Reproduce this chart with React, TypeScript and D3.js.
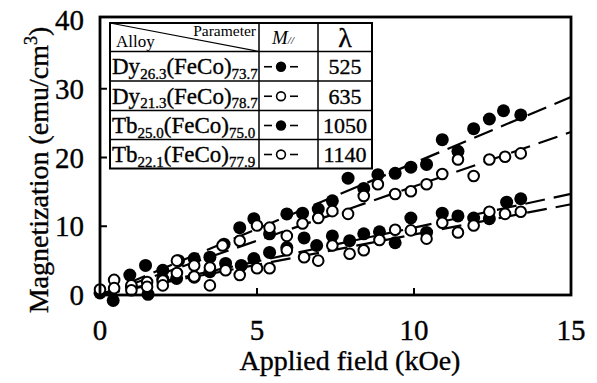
import React from "react";
import * as d3 from "d3";

const xTicks = [0, 5, 10, 15];
const yTicks = [0, 10, 20, 30, 40];
const xInnerTicks = [5, 10];
const yInnerTicks = [10, 20, 30];

// Dy26.3(FeCo)73.7 — filled
const fieldA = [0, 0.95, 1.45, 2.0, 2.5, 3.0, 3.5, 3.95, 4.45, 4.9, 5.4, 5.95, 6.45, 6.95, 7.4, 7.9, 8.4, 8.85, 9.4, 9.9, 10.4, 10.9, 11.4, 11.9, 12.4, 12.85, 13.4];
const magA = [0.3, 2.9, 4.3, 3.6, 5.0, 5.3, 5.5, 7.4, 9.8, 11.1, 8.9, 11.8, 11.9, 12.5, 13.7, 17.0, 15.5, 17.5, 17.7, 18.6, 19.0, 22.6, 20.9, 24.2, 25.6, 26.8, 26.2];
// Dy21.3(FeCo)78.7 — open
const fieldB = [0, 0.45, 1.0, 1.5, 2.0, 2.45, 3.0, 3.5, 3.9, 4.45, 5.0, 5.4, 5.95, 6.45, 6.95, 7.4, 7.9, 8.4, 8.85, 9.4, 9.9, 10.4, 10.9, 11.4, 11.9, 12.4, 12.9, 13.4];
const magB = [0.8, 2.2, 1.4, 1.9, 2.1, 5.0, 4.3, 4.0, 7.2, 7.9, 10.1, 9.8, 8.6, 10.4, 11.2, 12.2, 11.8, 14.4, 16.1, 14.7, 15.1, 16.1, 17.6, 19.7, 17.3, 19.7, 20.1, 20.6];
// Tb25.0(FeCo)75.0 — filled
const fieldC = [0.42, 1.0, 1.53, 2.0, 2.44, 3.0, 3.5, 4.0, 4.5, 4.9, 5.4, 5.95, 6.5, 6.9, 7.4, 7.95, 8.4, 8.9, 9.4, 9.9, 10.4, 10.9, 11.4, 11.9, 12.4, 12.95, 13.4];
const magC = [-0.8, 1.2, 0.1, 2.3, 2.4, 2.6, 3.4, 4.6, 4.3, 5.3, 6.2, 6.9, 8.3, 7.2, 8.6, 7.9, 8.9, 9.2, 7.6, 11.2, 9.1, 11.9, 11.5, 11.2, 11.1, 13.5, 14.0];
// Tb22.1(FeCo)77.9 — open
const fieldD = [0.45, 1.0, 1.5, 2.0, 2.45, 3.0, 3.5, 4.0, 4.45, 5.0, 5.4, 5.95, 6.5, 6.95, 7.4, 7.95, 8.4, 8.9, 9.4, 9.9, 10.4, 10.9, 11.4, 11.9, 12.4, 12.9, 13.4];
const magD = [1.0, 0.7, 1.2, 1.4, 3.2, 2.7, 1.4, 3.6, 2.9, 3.9, 3.9, 6.5, 5.5, 5.0, 7.2, 6.0, 6.5, 8.0, 9.5, 9.4, 8.2, 10.5, 9.1, 10.1, 12.1, 11.8, 12.1];

// fitted dashed lines: value at 0 kOe and at 15 kOe
const fitStart = [0, 0, 0, 0];
const fitEnd = [28.8, 23.7, 14.7, 13.2];
const fitField = [0, 15];

const alloyEl = ["Dy", "Dy", "Tb", "Tb"];
const alloySub1 = ["26.3", "21.3", "25.0", "22.1"];
const alloySub2 = ["73.7", "78.7", "75.0", "77.9"];
const lambdas = ["525", "635", "1050", "1140"];
const filledSeries = [true, false, true, false];

const FONT = "Liberation Serif, Tinos, Times New Roman, Times, DejaVu Serif, serif";

export default function App() {
  const x = d3.scaleLinear().domain([0, 15]).range([100, 571]);
  const y = d3.scaleLinear().domain([0, 40]).range([295, 20]);
  const series = [
    { f: fieldA, m: magA, filled: true },
    { f: fieldB, m: magB, filled: false },
    { f: fieldC, m: magC, filled: true },
    { f: fieldD, m: magD, filled: false },
  ];
  const line = d3
    .line<[number, number]>()
    .x((d) => x(d[0]))
    .y((d) => y(d[1]));

  const tx0 = 110, tx1 = 259, tx2 = 318, tx3 = 372;
  const rowYs = [23, 51.5, 81, 110.5, 139.5, 168.5];
  const ts = { fontFamily: FONT, stroke: "#000", strokeWidth: 0.35 } as React.CSSProperties;

  return (
    <svg width={597} height={383} style={{ position: "absolute", left: 0, top: 0, background: "#fff", fontFamily: FONT }}>
      <rect x={0} y={0} width={597} height={383} fill="#fff" />
      {fitEnd.map((e, i) => (
        <path
          key={"fit" + i}
          d={line([[fitField[0], fitStart[i]], [fitField[1], e]]) || ""}
          stroke="#000"
          strokeWidth={2.2}
          strokeDasharray="20 9"
          fill="none"
        />
      ))}
      {[0, 2, 1, 3].map((si) => {
        const s = series[si];
        return (
          <g key={"s" + si}>
            {s.f.map((fv, j) =>
              s.filled ? (
                <circle key={j} cx={x(fv)} cy={y(s.m[j])} r={6.5} fill="#000" />
              ) : (
                <circle key={j} cx={x(fv)} cy={y(s.m[j])} r={5.3} fill="#fff" stroke="#000" strokeWidth={2} />
              )
            )}
          </g>
        );
      })}
      <rect x={x(0)} y={17} width={x(15) - x(0)} height={y(0) - 17} fill="none" stroke="#000" strokeWidth={2.8} />
      {xInnerTicks.map((t) => (
        <line key={"xt" + t} x1={x(t)} x2={x(t)} y1={y(0)} y2={y(0) - 7} stroke="#000" strokeWidth={2} />
      ))}
      {yInnerTicks.map((t) => (
        <line key={"yt" + t} x1={x(0)} x2={x(0) + 7} y1={y(t)} y2={y(t)} stroke="#000" strokeWidth={2} />
      ))}
      {xTicks.map((t) => (
        <text key={"xl" + t} x={x(t)} y={340} fontSize={29} textAnchor="middle" fill="#000" style={ts}>
          {t}
        </text>
      ))}
      {yTicks.map((t) => (
        <text key={"yl" + t} x={84} y={y(t) + 10} fontSize={29} textAnchor="end" fill="#000" style={ts}>
          {t}
        </text>
      ))}
      <text x={350} y={370} fontSize={28} textAnchor="middle" fill="#000" style={ts}>
        Applied field (kOe)
      </text>
      <text transform="translate(48,170) rotate(-90)" fontSize={28} textAnchor="middle" fill="#000" style={ts}>
        Magnetization (emu/cm
        <tspan fontSize={18} dy={-11}>3</tspan>
        <tspan dy={11}>)</tspan>
      </text>
      <rect x={tx0} y={rowYs[0]} width={tx3 - tx0} height={rowYs[5] - rowYs[0]} fill="#fff" stroke="#000" strokeWidth={2} />
      {rowYs.slice(1, 5).map((ry, i) => (
        <line key={"rl" + i} x1={tx0} x2={tx3} y1={ry} y2={ry} stroke="#000" strokeWidth={1.5} />
      ))}
      <line x1={tx1} x2={tx1} y1={rowYs[0]} y2={rowYs[5]} stroke="#000" strokeWidth={1.5} />
      <line x1={tx2} x2={tx2} y1={rowYs[0]} y2={rowYs[5]} stroke="#000" strokeWidth={1.5} />
      <line x1={tx0} x2={tx1} y1={rowYs[0]} y2={rowYs[1]} stroke="#000" strokeWidth={1.2} />
      <text x={256} y={36} fontSize={15.5} textAnchor="end" fill="#000" style={{ fontFamily: FONT }}>Parameter</text>
      <text x={116} y={47} fontSize={17} fill="#000" style={{ fontFamily: FONT }}>Alloy</text>
      <text x={272} y={44} fontSize={19} fontStyle="italic" fill="#000" style={{ fontFamily: FONT }}>
        M<tspan fontSize={11}>//</tspan>
      </text>
      <text x={345} y={47} fontSize={28} textAnchor="middle" fill="#000" style={ts}>λ</text>
      {alloyEl.map((el, i) => {
        const top = rowYs[i + 1];
        const base = top + 22.5;
        const cx = 281;
        const cy = top + (rowYs[i + 2] - top) / 2 + 0.5;
        return (
          <g key={"row" + i}>
            <text x={112} y={base} fontSize={23} fill="#000" style={ts}>
              {el}
              <tspan fontSize={15} dy={4.5}>{alloySub1[i]}</tspan>
              <tspan dy={-4.5}>(FeCo)</tspan>
              <tspan fontSize={15} dy={4.5}>{alloySub2[i]}</tspan>
            </text>
            <line x1={cx - 17} x2={cx - 9} y1={cy} y2={cy} stroke="#000" strokeWidth={1.6} />
            <line x1={cx + 9} x2={cx + 17} y1={cy} y2={cy} stroke="#000" strokeWidth={1.6} />
            {filledSeries[i] ? (
              <circle cx={cx} cy={cy} r={5.2} fill="#000" />
            ) : (
              <circle cx={cx} cy={cy} r={4.4} fill="#fff" stroke="#000" strokeWidth={1.6} />
            )}
            <text x={345} y={base} fontSize={22} textAnchor="middle" fill="#000" style={ts}>
              {lambdas[i]}
            </text>
          </g>
        );
      })}
    </svg>
  );
}
